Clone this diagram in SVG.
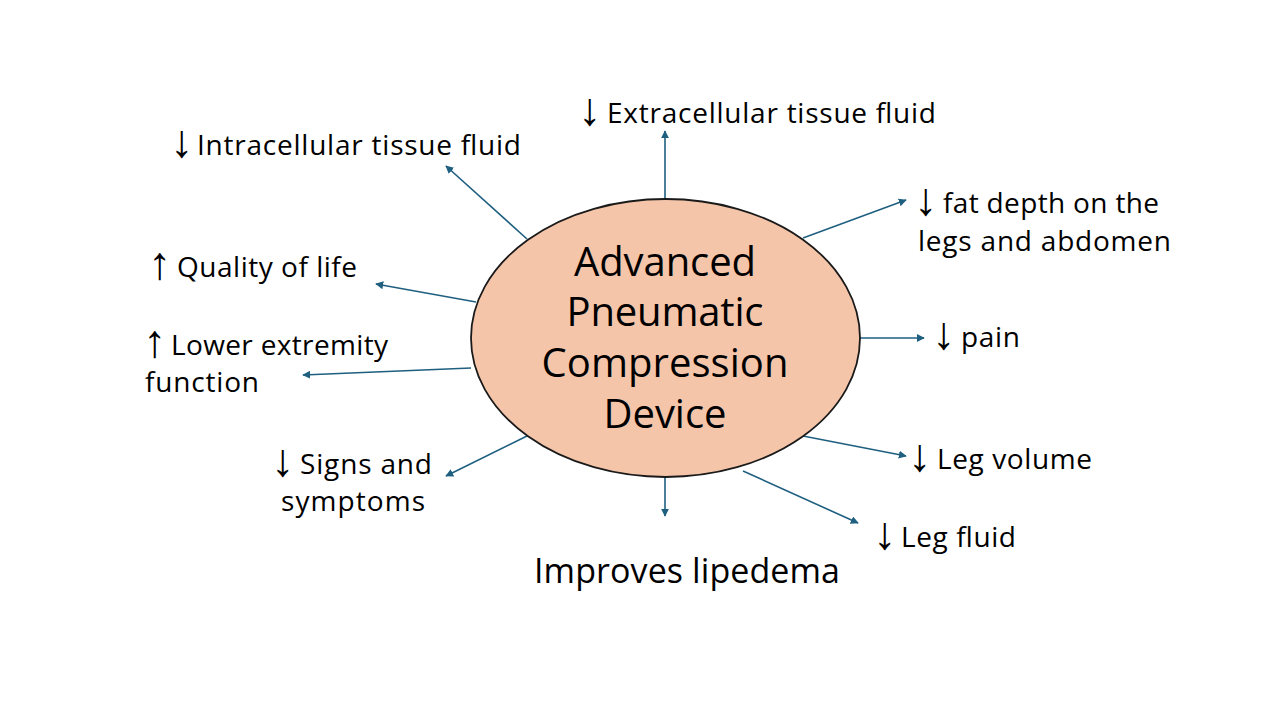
<svg xmlns="http://www.w3.org/2000/svg" width="1280" height="720" viewBox="0 0 1280 720">
<style>
.lbl{font-family:"Open Sans","Liberation Sans",sans-serif;font-size:28px;fill:#000}
.ar{font-family:"Liberation Sans","DejaVu Sans",sans-serif;font-size:46px}
.ctr{font-family:"Open Sans","Liberation Sans",sans-serif;font-size:40px;fill:#000;text-anchor:middle}
.big{font-family:"Open Sans","Liberation Sans",sans-serif;font-size:34px;fill:#000}
.con{stroke:#1f5f80;stroke-width:1.6;fill:none;marker-end:url(#ah)}
</style>
<defs>
<marker id="ah" viewBox="0 0 10 10" refX="9" refY="5" markerWidth="5" markerHeight="5" orient="auto" markerUnits="strokeWidth">
<path d="M0,0 L10,5 L0,10 Z" fill="#1f5f80"/>
</marker>
</defs>
<rect width="1280" height="720" fill="#fff"/>
<g id="connectors">
<line class="con" x1="665" y1="199" x2="665" y2="131"/>
<line class="con" x1="527" y1="239" x2="446" y2="166"/>
<line class="con" x1="803" y1="238" x2="906" y2="200"/>
<line class="con" x1="860" y1="338" x2="924" y2="338"/>
<line class="con" x1="803" y1="436" x2="906" y2="456"/>
<line class="con" x1="743" y1="471" x2="858" y2="523"/>
<line class="con" x1="665" y1="477" x2="665" y2="516"/>
<line class="con" x1="527" y1="436" x2="446" y2="476"/>
<line class="con" x1="471" y1="368" x2="303" y2="375"/>
<line class="con" x1="476" y1="302" x2="376" y2="284"/>
</g>
<g id="center">
<ellipse cx="665.5" cy="338" rx="194.5" ry="139" fill="#f5c5aa" stroke="#1a1a1a" stroke-width="1.8"/>
<text class="ctr" x="665" y="276" textLength="182" lengthAdjust="spacing">Advanced</text>
<text class="ctr" x="665" y="326" textLength="197" lengthAdjust="spacing">Pneumatic</text>
<text class="ctr" x="665" y="377" textLength="247" lengthAdjust="spacing">Compression</text>
<text class="ctr" x="665" y="428" textLength="123" lengthAdjust="spacing">Device</text>
</g>
<g id="n-intracellular"><text class="lbl" y="155"><tspan class="ar" x="170" y="157">↓</tspan><tspan x="197" y="155" textLength="324" lengthAdjust="spacing">Intracellular tissue fluid</tspan></text></g>
<g id="n-extracellular"><text class="lbl" y="123"><tspan class="ar" x="578" y="125">↓</tspan><tspan x="607" y="123" textLength="329" lengthAdjust="spacing">Extracellular tissue fluid</tspan></text></g>
<g id="n-fat"><text class="lbl" y="213"><tspan class="ar" x="914" y="215">↓</tspan><tspan x="943" y="213" textLength="216" lengthAdjust="spacing">fat depth on the</tspan></text><text class="lbl" x="918" y="251" textLength="253" lengthAdjust="spacing">legs and abdomen</text></g>
<g id="n-pain"><text class="lbl" y="347"><tspan class="ar" x="932" y="349">↓</tspan><tspan x="961" y="347" textLength="59" lengthAdjust="spacing">pain</tspan></text></g>
<g id="n-legvolume"><text class="lbl" y="469"><tspan class="ar" x="908" y="471">↓</tspan><tspan x="937" y="469" textLength="155" lengthAdjust="spacing">Leg volume</tspan></text></g>
<g id="n-legfluid"><text class="lbl" y="547"><tspan class="ar" x="873" y="549">↓</tspan><tspan x="901" y="547" textLength="115" lengthAdjust="spacing">Leg fluid</tspan></text></g>
<g id="n-improves"><text class="big" x="534" y="583" textLength="306" lengthAdjust="spacing">Improves lipedema</text></g>
<g id="n-signs"><text class="lbl" y="474"><tspan class="ar" x="271" y="476">↓</tspan><tspan x="300" y="474" textLength="132" lengthAdjust="spacing">Signs and</tspan></text><text class="lbl" x="281" y="511" textLength="144" lengthAdjust="spacing">symptoms</text></g>
<g id="n-lower"><text class="lbl" y="355"><tspan class="ar" x="143" y="357">↑</tspan><tspan x="171" y="355" textLength="217" lengthAdjust="spacing">Lower extremity</tspan></text><text class="lbl" x="145" y="392" textLength="114" lengthAdjust="spacing">function</text></g>
<g id="n-quality"><text class="lbl" y="277"><tspan class="ar" x="148" y="279">↑</tspan><tspan x="177" y="277" textLength="180" lengthAdjust="spacing">Quality of life</tspan></text></g>
</svg>
